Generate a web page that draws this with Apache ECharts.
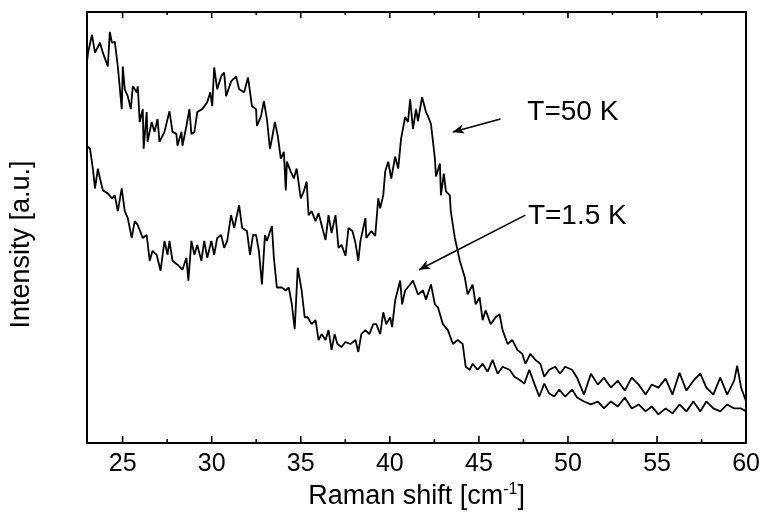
<!DOCTYPE html>
<html><head><meta charset="utf-8">
<script src="https://cdn.jsdelivr.net/npm/echarts@6/dist/echarts.min.js"></script>
<style>html,body{margin:0;padding:0;background:#fff}#c{width:763px;height:517px}</style>
</head><body><div id="c"></div>
<script>
// ---- data ----
const majorTicks = [25, 30, 35, 40, 45, 50, 55, 60];
const minorTicks = [27.5, 32.5, 37.5, 42.5, 47.5, 52.5, 57.5];

// T = 50 K (upper trace)
const x50 = [23.00,23.06,23.28,23.45,23.73,23.89,24.17,24.28,24.40,24.56,24.73,
24.95,25.01,25.12,25.29,25.46,25.57,25.79,25.85,25.96,26.13,
26.18,26.35,26.40,26.63,26.79,26.96,27.07,27.35,27.63,27.80,
28.02,28.08,28.30,28.36,28.58,28.75,28.86,29.03,29.19,29.47,
29.75,29.92,30.03,30.14,30.31,30.53,30.70,30.81,31.09,31.37,
31.54,31.82,32.04,32.26,32.49,32.54,32.77,32.93,33.10,33.27,
33.38,33.55,33.71,33.88,34.05,34.16,34.22,34.44,34.61,34.77,
35.00,35.17,35.33,35.44,35.61,35.83,36.00,36.17,36.39,36.56,
36.73,36.95,37.12,37.29,37.51,37.68,37.90,38.07,38.23,38.35,
38.63,38.68,38.96,39.18,39.35,39.46,39.63,39.74,39.91,40.08,
40.30,40.47,40.63,40.86,41.02,41.14,41.30,41.47,41.58,41.81,
42.03,42.14,42.31,42.53,42.59,42.81,42.87,43.03,43.15,43.37,
43.42,43.65,43.93,44.21,44.37,44.65,44.82,45.04,45.21,45.38,
45.66,45.94,46.16,46.33,46.61,46.88,47.16,47.44,47.61,47.89,
48.17,48.45,48.67,48.95,49.28,49.56,49.84,50.23,50.51,50.90,
51.29,51.68,52.02,52.41,52.80,53.19,53.58,53.97,54.36,54.70,
55.08,55.48,55.87,56.26,56.65,57.04,57.43,57.77,58.16,58.55,
58.94,59.33,59.50,59.72,60.00];
const y50 = [385,394,412,394,404,394,380,415,404,405,380,
337,380,357,350,337,360,354,360,324,337,
297,334,304,324,314,327,304,314,335,314,
312,300,314,300,320,337,312,314,334,337,
344,354,340,379,357,370,374,350,365,370,
357,354,369,340,337,320,330,345,327,297,
307,324,310,287,294,255,284,274,267,277,
247,254,264,230,234,224,232,220,205,230,
212,230,197,200,189,217,214,202,184,204,
227,207,214,209,247,237,250,274,284,267,
289,277,307,329,324,347,317,337,325,349,
334,330,322,287,269,282,250,272,254,250,
234,207,184,167,150,160,140,147,124,134,
120,127,130,114,100,104,94,90,80,90,
84,80,67,74,77,70,77,74,66,49,
70,59,66,56,63,53,66,59,49,59,
56,65,49,71,53,63,70,56,49,66,
49,63,78,56,42];

// T = 1.5 K (lower trace)
const x15 = [23.00,23.17,23.33,23.45,23.61,23.73,23.89,24.17,24.40,24.56,
24.73,24.95,25.12,25.29,25.51,25.68,25.85,26.13,26.35,26.52,
26.68,26.91,27.13,27.35,27.52,27.63,27.80,28.08,28.36,28.58,
28.69,28.86,29.03,29.19,29.42,29.58,29.75,29.98,30.14,30.31,
30.53,30.70,30.87,31.09,31.26,31.54,31.71,31.98,32.15,32.32,
32.49,32.65,32.82,32.99,33.10,33.38,33.49,33.66,33.94,34.16,
34.33,34.50,34.66,34.83,35.05,35.22,35.39,35.61,35.83,36.00,
36.17,36.39,36.56,36.73,36.90,37.06,37.29,37.51,37.79,38.07,
38.23,38.40,38.63,38.85,39.07,39.24,39.46,39.63,39.80,40.02,
40.13,40.30,40.58,40.69,40.86,41.14,41.30,41.58,41.86,42.03,
42.31,42.53,42.70,42.98,43.26,43.54,43.81,44.09,44.26,44.48,
44.65,44.93,45.21,45.49,45.77,46.05,46.33,46.72,47.00,47.27,
47.55,47.83,48.11,48.39,48.67,48.95,49.23,49.51,49.84,50.23,
50.51,50.90,51.29,51.68,52.02,52.41,52.80,53.19,53.58,53.97,
54.36,54.70,55.08,55.48,55.87,56.26,56.65,57.04,57.43,57.77,
58.16,58.55,58.94,59.33,59.72,60.00];
const y15 = [300,297,277,257,277,267,255,252,247,250,
234,257,234,227,207,224,220,207,210,184,
194,190,174,204,190,204,184,180,175,187,
164,204,190,200,184,204,187,204,190,207,
210,197,204,230,217,240,217,214,190,210,
210,194,160,210,204,219,187,157,157,154,
157,140,115,177,154,127,127,120,124,104,
110,104,114,94,110,100,97,102,100,104,
92,110,114,110,120,120,110,132,120,127,
117,144,164,140,154,160,164,150,154,145,
160,140,137,120,114,100,104,100,77,74,
80,74,80,72,84,70,77,74,67,64,
60,74,60,47,60,50,47,54,47,54,
46,42,39,42,35,42,37,46,35,39,
32,37,29,35,30,39,32,42,32,42,
35,32,39,35,35,32];

// annotations (data coordinates)
const noteTexts = ['T=50 K', 'T=1.5 K'];
const noteAt = [[47.72, 334], [47.75, 229]];
const arrowFrom = [[46.21, 327], [47.61, 230]];
const arrowTo = [[43.54, 314], [41.64, 175]];

const xTitle = 'Raman shift [cm{sup|-1}]';
const yTitle = 'Intensity [a.u.]';

// ---- chart ----
const FONT = 'Liberation Sans, Arial, sans-serif';
const zip = (a, b) => a.map((v, i) => [v, b[i]]);
const chart = echarts.init(document.getElementById('c'), null, {renderer: 'canvas'});
const XMIN = 23, XMAX = 60, YMIN = 0, YMAX = 435;

const tickData = majorTicks.map(v => [v, 1]).concat(minorTicks.map(v => [v, 0]));

chart.setOption({
  animation: false,
  backgroundColor: '#fff',
  grid: {left: 87, right: 13, top: 12, bottom: 70, containLabel: false, show: false},
  xAxis: [
    {type: 'value', position: 'bottom', min: XMIN, max: XMAX,
      axisLine: {show: true, onZero: false, lineStyle: {color: '#000', width: 2}},
      axisTick: {show: false},
      axisLabel: {show: true, customValues: majorTicks, color: '#000', fontSize: 25, fontFamily: FONT, margin: 9},
      splitLine: {show: false},
      name: xTitle, nameLocation: 'middle', nameGap: 36,
      nameTextStyle: {color: '#000', fontSize: 27, fontFamily: FONT, lineHeight: 30,
        rich: {sup: {fontSize: 16, fontFamily: FONT, color: '#000', verticalAlign: 'top', lineHeight: 30, padding: [0, 0, 8, 0]}}}},
    {type: 'value', position: 'top', min: XMIN, max: XMAX,
      axisLine: {show: true, onZero: false, lineStyle: {color: '#000', width: 2}},
      axisTick: {show: false}, axisLabel: {show: false}, splitLine: {show: false}}
  ],
  yAxis: [
    {type: 'value', position: 'left', min: YMIN, max: YMAX,
      axisLine: {show: true, onZero: false, lineStyle: {color: '#000', width: 2}},
      axisTick: {show: false}, axisLabel: {show: false}, splitLine: {show: false}},
    {type: 'value', position: 'right', min: YMIN, max: YMAX,
      axisLine: {show: true, onZero: false, lineStyle: {color: '#000', width: 2}},
      axisTick: {show: false}, axisLabel: {show: false}, splitLine: {show: false}}
  ],
  series: [
    {type: 'line', name: 'T=50 K', xAxisIndex: 0, yAxisIndex: 0, data: zip(x50, y50),
      showSymbol: false, symbol: 'none', lineStyle: {color: '#000', width: 1.8}, silent: true,
      markLine: {
        silent: true, symbol: ['none', 'arrow'], symbolSize: [7, 11],
        label: {show: false},
        lineStyle: {color: '#000', width: 1.6, type: 'solid'},
        data: arrowFrom.map((f, i) => [{coord: f}, {coord: arrowTo[i]}])
      }},
    {type: 'line', name: 'T=1.5 K', xAxisIndex: 0, yAxisIndex: 0, data: zip(x15, y15),
      showSymbol: false, symbol: 'none', lineStyle: {color: '#000', width: 1.8}, silent: true},
    {type: 'custom', name: 'ticks', xAxisIndex: 0, yAxisIndex: 0, data: tickData, silent: true, clip: false,
      renderItem: function (params, api) {
        const v = api.value(0);
        const major = api.value(1) === 1;
        const pb = api.coord([v, YMIN]);
        const pt = api.coord([v, YMAX]);
        const lb = major ? 7 : 4, lt = major ? 6 : 3;
        return {type: 'group', children: [
          {type: 'line', shape: {x1: pb[0], y1: pb[1], x2: pb[0], y2: pb[1] - lb}, style: {stroke: '#000', lineWidth: 1.6}},
          {type: 'line', shape: {x1: pt[0], y1: pt[1], x2: pt[0], y2: pt[1] + lt}, style: {stroke: '#000', lineWidth: 1.6}}
        ]};
      }}
  ]
});

// place text annotations using the chart's own scale
const graphics = noteTexts.map((t, i) => {
  const p = chart.convertToPixel({xAxisIndex: 0, yAxisIndex: 0}, noteAt[i]);
  return {type: 'text', x: p[0], y: p[1], silent: true,
    style: {text: t, fill: '#000', font: '28px ' + FONT, textAlign: 'left', textVerticalAlign: 'middle'}};
});
const gridRect = chart.getModel().getComponent('grid', 0).coordinateSystem.getRect();
graphics.push({type: 'text', x: 22, y: gridRect.y + gridRect.height / 2 + 17, rotation: Math.PI / 2, silent: true,
  style: {text: yTitle, fill: '#000', font: '27px ' + FONT, textAlign: 'center', textVerticalAlign: 'middle'}});
chart.setOption({graphic: graphics});
</script>
</body></html>
